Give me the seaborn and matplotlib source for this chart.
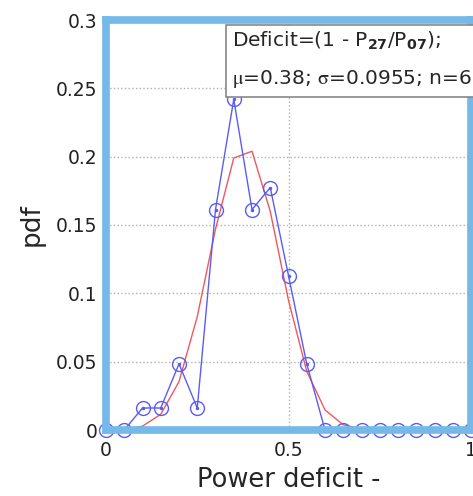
import matplotlib
matplotlib.use("Agg")
import matplotlib.pyplot as plt
import seaborn as sns
import pandas as pd
from matplotlib.patches import Rectangle

# ---- data ----
deficit_bins = [0.00, 0.05, 0.10, 0.15, 0.20, 0.25, 0.30, 0.35, 0.40, 0.45,
                0.50, 0.55, 0.60, 0.65, 0.70, 0.75, 0.80, 0.85, 0.90, 0.95, 1.00]
pdf_observed = [0.0, 0.0, 0.0161, 0.0161, 0.0484, 0.0161, 0.1613, 0.2419, 0.1613, 0.1774,
                0.1129, 0.0484, 0.0, 0.0, 0.0, 0.0, 0.0, 0.0, 0.0, 0.0, 0.0]
pdf_fitted = [0.0000, 0.0005, 0.0028, 0.0115, 0.0354, 0.0829, 0.1470, 0.1990, 0.2040, 0.1600,
              0.0948, 0.0429, 0.0147, 0.0038, 0.0008, 0.0001, 0.0, 0.0, 0.0, 0.0, 0.0]
y_ticks = [0, 0.05, 0.1, 0.15, 0.2, 0.25, 0.3]
y_tick_labels = ["0", "0.05", "0.1", "0.15", "0.2", "0.25", "0.3"]
x_ticks = [0, 0.5, 1.0]
x_tick_labels = ["0", "0.5", "1"]
legend_line1 = r"Deficit=(1 - P$_{\mathbf{27}}$/P$_{\mathbf{07}}$);"
legend_line2 = r"$\mathrm{\mu}$=0.38; $\mathrm{\sigma}$=0.0955; n=62"

df = pd.DataFrame({"x": deficit_bins, "obs": pdf_observed, "fit": pdf_fitted})

sns.set_style("white")
plt.rcParams["font.family"] = ["DejaVu Sans"]
plt.rcParams["mathtext.fontset"] = "dejavusans"

fig = plt.figure(figsize=(4.73, 4.96), dpi=100)
ax = fig.add_axes([106 / 473, (496 - 430) / 496, 365 / 473, 410 / 496])

blue = "#5a5cf5"
red = "#f0585a"

sns.lineplot(data=df, x="x", y="fit", ax=ax, color=red, linewidth=1.0, zorder=2)
sns.lineplot(data=df, x="x", y="obs", ax=ax, color=blue, linewidth=1.0,
             marker="o", markersize=10, markerfacecolor="none",
             markeredgecolor=blue, markeredgewidth=1.0, zorder=2.1)
for ln in ax.lines:
    ln.set_clip_on(False)
ax.plot(df["x"], df["obs"], ".", color=blue, ms=3, zorder=2.2, clip_on=False)

ax.set_xlim(0, 0.986)
ax.set_ylim(0, 0.3)
ax.set_yticks(y_ticks)
ax.set_yticklabels(y_tick_labels)
ax.set_xticks(x_ticks)
ax.set_xticklabels(x_tick_labels)
ax.tick_params(axis="both", length=0, labelsize=13.5, colors="#222222")
ax.tick_params(axis="y", pad=6)
ax.tick_params(axis="x", pad=8)

ax.grid(True, linestyle=":", color="#b0b0b0", linewidth=1.0)
for sp in ax.spines.values():
    sp.set_visible(True)
    sp.set_color("#74b9e7")
    sp.set_linewidth(5.5)
    sp.set_zorder(3)

ax.set_ylabel("pdf", fontsize=19, labelpad=8)
ax.set_xlabel("Power deficit -", fontsize=18.5, labelpad=5)

# legend-like text box
box = Rectangle((0.329, 0.812), 0.8, 0.176, transform=ax.transAxes,
                facecolor="white", edgecolor="#888888", linewidth=1.2,
                zorder=4, clip_on=False)
ax.add_patch(box)
ax.text(0.345, 0.948, legend_line1, transform=ax.transAxes, fontsize=14.5,
        va="center", ha="left", zorder=5)
ax.text(0.345, 0.856, legend_line2, transform=ax.transAxes, fontsize=14.5,
        va="center", ha="left", zorder=5, math_fontfamily="stix")

fig.savefig("out.png", dpi=100)
